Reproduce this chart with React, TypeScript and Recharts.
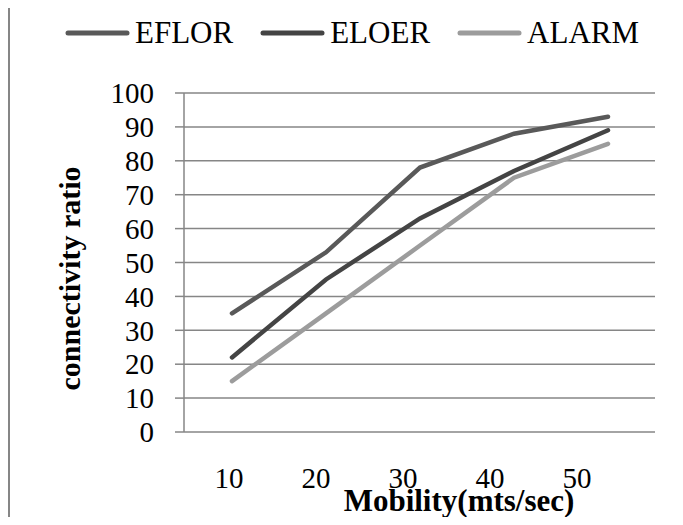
import React from "react";
import { CartesianGrid, Label, Legend, Line, LineChart, XAxis, YAxis } from "recharts";

const speeds = [10, 20, 30, 40, 50];
const seriesNames = ["EFLOR", "ELOER", "ALARM"];
const eflor = [35, 53, 78, 88, 93];
const eloer = [22, 45, 63, 77, 89];
const alarm = [15, 35, 55, 75, 85];
const yTicks = [0, 10, 20, 30, 40, 50, 60, 70, 80, 90, 100];

const data = speeds.map((speed, i) => ({
  speed,
  EFLOR: eflor[i],
  ELOER: eloer[i],
  ALARM: alarm[i],
}));

const FONT = '"Liberation Serif", "Times New Roman", serif';
const GRID = "#868686";

const renderLegend = (props: any) => {
  const payload = [...(props.payload || [])].sort(
    (a: any, b: any) => seriesNames.indexOf(a.value) - seriesNames.indexOf(b.value)
  );
  return (
    <div
      style={{
        height: 80,
        display: "flex",
        alignItems: "flex-start",
        paddingLeft: 55,
        fontFamily: FONT,
        fontSize: 31,
        color: "#000",
      }}
    >
      {payload.map((entry: any) => (
        <div
          key={entry.value}
          style={{ display: "flex", alignItems: "center", height: 40, marginRight: 27 }}
        >
          <svg width={65} height={10} style={{ marginRight: 5 }}>
            <line
              x1={3}
              y1={5}
              x2={62}
              y2={5}
              stroke={entry.color}
              strokeWidth={5}
              strokeLinecap="round"
            />
          </svg>
          <span>{entry.value}</span>
        </div>
      ))}
    </div>
  );
};

export default function App() {
  return (
    <div
      style={{
        width: 667,
        height: 511,
        marginTop: -2,
        borderLeft: `2px solid ${GRID}`,
        borderTop: `2px solid ${GRID}`,
        boxSizing: "border-box",
        background: "#fff",
      }}
    >
      <LineChart
        width={665}
        height={509}
        data={data}
        margin={{ top: 5, right: 20, left: 0, bottom: 0 }}
      >
        <CartesianGrid vertical={false} stroke={GRID} strokeWidth={1.5} />
        <XAxis dataKey="speed" hide height={0} padding={{ left: 48, right: 47 }} />
        {/* tick labels sit on their own axis so they can be spaced independently */}
        <XAxis
          xAxisId="labels"
          dataKey="speed"
          height={85}
          padding={{ left: 45, right: 78 }}
          axisLine={false}
          tickLine={false}
          tickSize={0}
          tickMargin={35}
          tick={{ fill: "#000", fontSize: 29, fontFamily: FONT }}
        >
          <Label
            value="Mobility(mts/sec)"
            position="insideBottom"
            offset={6}
            dx={39.5}
            style={{ fill: "#000", fontSize: 31, fontWeight: "bold", fontFamily: FONT }}
          />
        </XAxis>
        <YAxis
          width={174}
          domain={[0, 100]}
          ticks={yTicks}
          interval={0}
          tickSize={9}
          tickMargin={21}
          axisLine={{ stroke: GRID, strokeWidth: 1.5 }}
          tickLine={{ stroke: GRID, strokeWidth: 1.5 }}
          tick={{ fill: "#000", fontSize: 29, fontFamily: FONT }}
        >
          <Label
            value="connectivity ratio"
            angle={-90}
            position="insideLeft"
            offset={59}
            dy={16}
            style={{
              textAnchor: "middle",
              fill: "#000",
              fontSize: 30,
              fontWeight: "bold",
              fontFamily: FONT,
            }}
          />
        </YAxis>
        <Legend verticalAlign="top" content={renderLegend} wrapperStyle={{ left: 0, width: 665 }} />
        <Line
          type="linear"
          dataKey="EFLOR"
          stroke="#595959"
          strokeWidth={4.5}
          strokeLinecap="round"
          dot={false}
          isAnimationActive={false}
        />
        <Line
          type="linear"
          dataKey="ELOER"
          stroke="#444444"
          strokeWidth={4.5}
          strokeLinecap="round"
          dot={false}
          isAnimationActive={false}
        />
        <Line
          type="linear"
          dataKey="ALARM"
          stroke="#9c9c9c"
          strokeWidth={4.5}
          strokeLinecap="round"
          dot={false}
          isAnimationActive={false}
        />
      </LineChart>
    </div>
  );
}
